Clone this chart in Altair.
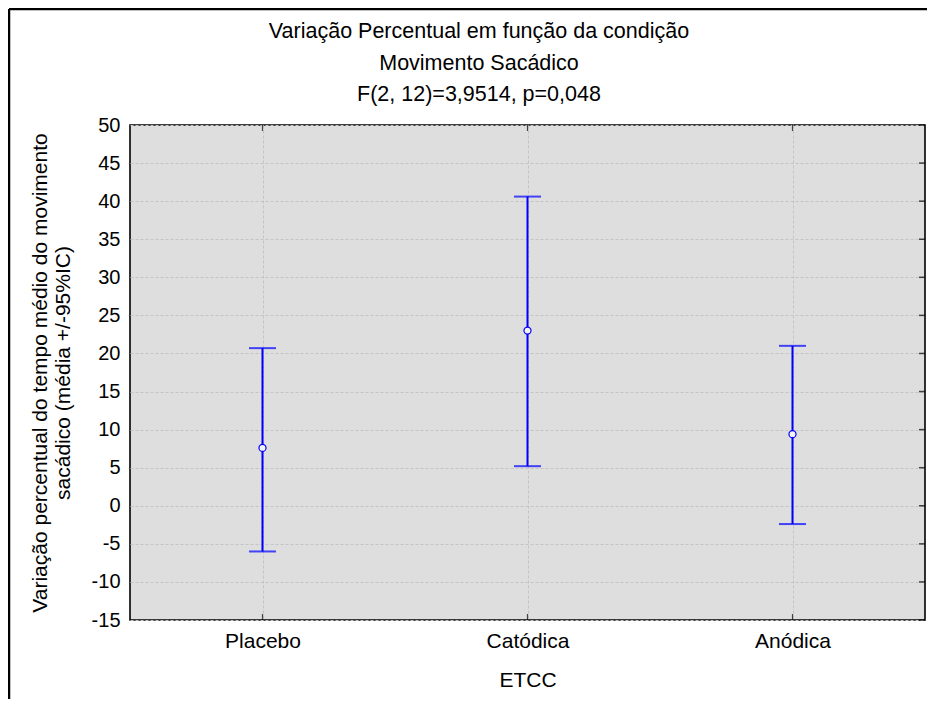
import altair as alt
import pandas as pd

categories = ["Placebo", "Catódica", "Anódica"]
means = [7.6, 23.0, 9.4]
lower = [-6.0, 5.2, -2.4]
upper = [20.7, 40.6, 21.0]
y_ticks = [-15, -10, -5, 0, 5, 10, 15, 20, 25, 30, 35, 40, 45, 50]
title_lines = ["Variação Percentual em função da condição", "Movimento Sacádico",
               "F(2, 12)=3,9514, p=0,048"]
y_title = ["Variação percentual do tempo médio do movimento", "sacádico (média +/-95%IC)"]

df = pd.DataFrame({"ETCC": categories, "mean": means, "lo": lower, "hi": upper})
ticks_df = pd.DataFrame({"t": y_ticks})
one = pd.DataFrame({"k": [0]})

W, H = 795, 495
BLUE = "#0000ff"
FONT = "Liberation Sans, Arial, sans-serif"
FS = 21

xaxis = alt.Axis(labelAngle=0, labelFont=FONT, labelFontSize=FS, labelColor="black",
                 labelPadding=10, titleFont=FONT, titleFontSize=FS, titleFontWeight="normal",
                 titleColor="black", titlePadding=18, ticks=False, domain=False,
                 grid=True, gridDash=[3, 2], gridColor="#c4c4c4")
xscale = alt.Scale(type="point", padding=0.5)
yscale = alt.Scale(domain=[-15, 50], nice=False, zero=False)
yaxis = alt.Axis(values=y_ticks, labelFont=FONT, labelFontSize=FS - 1, labelColor="black",
                 labelPadding=10, labelOverlap=False, labelExpr="'' + datum.value",
                 ticks=False, domain=False,
                 grid=True, gridDash=[3, 2], gridColor="#c4c4c4",
                 title=y_title, titleFont=FONT, titleFontSize=FS, titleFontWeight="normal",
                 titleColor="black", titleLineHeight=23, titlePadding=18)


def X():
    return alt.X("ETCC:N", sort=categories, title="ETCC", scale=xscale, axis=xaxis)


def Y(field):
    return alt.Y(field, title=y_title, scale=yscale, axis=yaxis)


base = alt.Chart(df)

rules = base.mark_rule(color=BLUE, strokeWidth=2).encode(x=X(), y=Y("lo:Q"), y2="hi:Q")
cap_lo = base.mark_tick(color=BLUE, size=27, thickness=2).encode(x=X(), y=Y("lo:Q"))
cap_hi = base.mark_tick(color=BLUE, size=27, thickness=2).encode(x=X(), y=Y("hi:Q"))
pts = base.mark_point(shape="circle", size=50, filled=True, fill="#f4f4f4", stroke=BLUE,
                      strokeWidth=1.2, opacity=1, fillOpacity=1).encode(x=X(), y=Y("mean:Q"))

right_ticks = alt.Chart(ticks_df).mark_tick(color="black", size=6, thickness=1.5).encode(
    y=Y("t:Q"), x=alt.value(W - 3))
bot_ticks = base.mark_tick(color="black", size=6, thickness=1.2, orient="vertical").encode(
    x=X(), y=alt.value(H - 3))
top_ticks = base.mark_tick(color="black", size=6, thickness=1.2, orient="vertical").encode(
    x=X(), y=alt.value(3))

frame_left = alt.Chart(one).mark_rule(color="black", strokeWidth=2.5).encode(
    x=alt.value(-121), y=alt.value(-116), y2=alt.value(H + 80))
frame_top = alt.Chart(one).mark_rule(color="black", strokeWidth=2.5).encode(
    x=alt.value(-121), x2=alt.value(W + 10), y=alt.value(-116))

title_layers = []
for i, line in enumerate(title_lines):
    title_layers.append(
        alt.Chart(pd.DataFrame({"txt": [line]})).mark_text(
            font=FONT, fontSize=21.5, color="black", baseline="middle", align="center"
        ).encode(text="txt:N", x=alt.value(349), y=alt.value(-93 + i * 31.5)))

chart = alt.layer(rules, cap_lo, cap_hi, pts, right_ticks, bot_ticks, top_ticks,
                  frame_left, frame_top, *title_layers).properties(
    width=W, height=H,
    background="white",
    autosize=alt.AutoSizeParams(type="none"),
    padding={"left": 122, "top": 117, "right": 2, "bottom": 79},
).configure_view(fill="#dedede", stroke="black", strokeWidth=1.6
).configure_axis(labelOverlap=False)

chart.save("out.html", embed_options={"renderer": "svg", "actions": False})
